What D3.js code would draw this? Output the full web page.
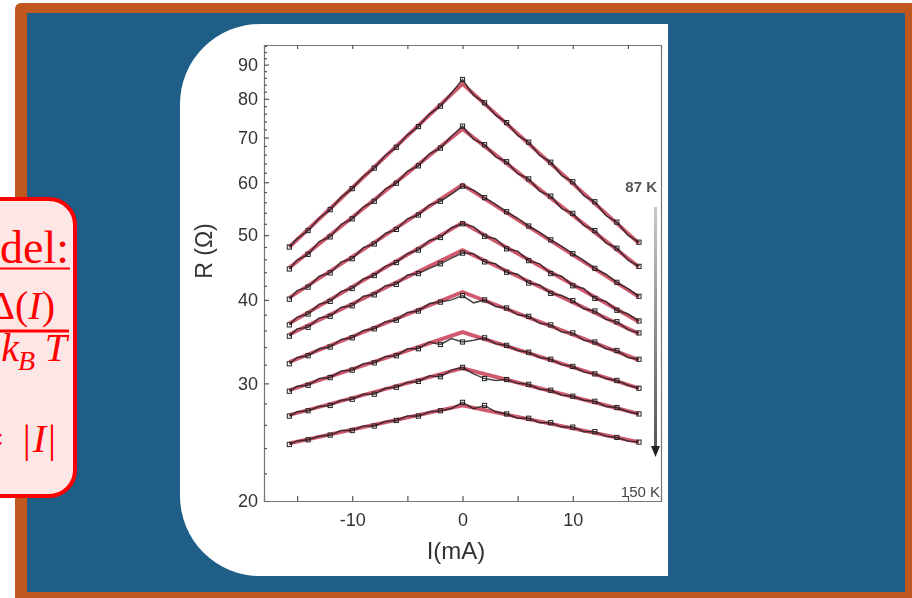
<!DOCTYPE html>
<html>
<head>
<meta charset="utf-8">
<script src="https://cdn.jsdelivr.net/npm/d3@7"></script>
<style>
  html, body { margin: 0; padding: 0; background: #fff; overflow: hidden; }
  svg { display: block; }
</style>
</head>
<body>
<svg id="slide" width="912" height="598"></svg>
<script>
// Bias current (mA) at which each resistance point was taken
const currents = [-15.7,-15,-14,-13,-12,-11,-10,-9,-8,-7,-6,-5,-4,-3,-2,-1,0,
                  1,2,3,4,5,6,7,8,9,10,11,12,13,14,15,16];

// Measured resistance (ohm), one series per temperature, 87 K at the top down to 150 K
const r87  = [48.0,49.4,50.8,53.0,54.6,57.0,58.7,61.2,63.0,65.8,67.7,70.6,72.7,75.9,78.0,81.6,85.5,
              81.0,78.9,75.6,73.7,70.5,68.9,65.8,64.3,61.4,60.1,57.3,56.1,53.5,52.3,50.0,48.8];
const rT2  = [44.5,45.9,46.8,48.9,49.7,51.9,52.9,55.1,56.2,58.6,59.8,62.3,63.5,66.2,67.5,70.3,72.8,
              69.6,68.3,65.5,64.4,61.8,60.7,58.2,57.2,54.8,53.9,51.7,50.8,48.7,47.8,45.9,44.9];
const rT3  = [40.1,41.3,41.8,43.4,43.9,45.6,46.1,47.9,48.5,50.3,51.0,52.9,53.6,55.5,56.2,57.6,59.2,
              58.4,56.9,55.6,54.2,53.0,51.6,50.5,49.2,48.1,46.9,45.8,44.6,43.7,42.5,41.6,40.5];
const rT4  = [36.7,37.7,38.1,39.4,39.8,41.2,41.6,43.0,43.5,44.9,45.5,46.9,47.5,49.1,49.6,51.3,52.0,
              51.5,49.8,49.4,47.7,47.3,45.8,45.3,43.8,43.4,42.0,41.6,40.2,39.8,38.6,38.1,37.2];
const rT5  = [35.3,36.2,36.4,37.6,37.8,39.0,39.2,40.5,40.7,42.0,42.2,43.6,43.8,44.6,45.3,46.2,47.0,
              46.9,45.6,45.3,44.0,43.7,42.4,42.1,40.9,40.6,39.9,38.8,38.5,37.4,37.1,36.1,35.7];
const rT6  = [32.1,32.8,33.0,33.8,34.0,34.9,35.1,36.0,36.2,37.1,37.3,38.3,38.5,39.5,39.7,40.0,40.6,
              39.6,40.0,39.1,38.9,38.0,37.8,36.9,36.7,35.8,35.7,34.8,34.6,33.8,33.6,32.8,32.6];
const rT7  = [29.2,29.7,29.8,30.5,30.6,31.3,31.4,32.1,32.2,32.9,33.0,33.8,33.8,34.6,34.3,35.0,34.6,
              34.8,35.1,34.4,34.2,33.6,33.4,32.8,32.6,32.0,31.8,31.2,31.0,30.5,30.3,29.8,29.5];
const rT8  = [26.8,27.2,27.3,27.7,27.8,28.3,28.4,28.9,28.9,29.5,29.6,30.1,30.2,30.8,30.7,31.4,31.7,
              31.0,30.5,30.3,30.4,30.0,29.9,29.4,29.3,28.8,28.7,28.3,28.2,27.7,27.6,27.2,27.0];
const r150 = [24.3,24.6,24.7,25.0,25.1,25.5,25.5,25.9,25.9,26.3,26.4,26.8,26.8,27.2,27.3,27.5,28.1,
              27.5,27.8,27.2,27.0,26.6,26.6,26.2,26.2,25.8,25.8,25.4,25.4,25.0,24.9,24.6,24.5];
const measured = [r87, rT2, rT3, rT4, rT5, rT6, rT7, rT8, r150];

// Fitted exponential model: straight segments in log R from each end to the cusp at I = 0
const fitCurrents = [-15.7, 0, 16];
const fitLeft  = [48.0, 44.7, 40.3, 36.9, 35.5, 32.3, 29.3, 26.9, 24.4];
const fitPeak  = [84.2, 72.1, 59.5, 52.2, 47.5, 41.1, 35.8, 31.6, 27.8];
const fitRight = [48.6, 44.8, 40.4, 37.1, 35.6, 32.5, 29.5, 27.0, 24.5];

// Axis ticks and labels
const yMajorTicks = [20, 30, 40, 50, 60, 70, 80, 90];
const yMinorTicks = [22,24,26,28,32,34,36,38,42,44,46,48,52,54,56,58,62,64,66,68,72,74,76,78,82,84,86,88,92,94,96];
const xTicks = [-15, -10, -5, 0, 5, 10, 15];
const xLabelled = [-10, 0, 10];
const tempHigh = "87 K";
const tempLow = "150 K";
const yTitle = "R (\u03A9)";
const xTitle = "I(mA)";

const svg = d3.select("#slide");
const defs = svg.append("defs");
defs.append("filter").attr("id", "soft")
  .attr("x", "-5%").attr("y", "-5%").attr("width", "110%").attr("height", "110%")
  .append("feGaussianBlur").attr("stdDeviation", 0.7);
const barGrad = defs.append("linearGradient").attr("id", "tempBar")
  .attr("x1", 0).attr("y1", 0).attr("x2", 0).attr("y2", 1);
barGrad.append("stop").attr("offset", "0%").attr("stop-color", "#c8c8c8");
barGrad.append("stop").attr("offset", "100%").attr("stop-color", "#555");

// Slide frame
svg.append("rect").attr("width", 912).attr("height", 598).attr("fill", "#fff");
svg.append("rect").attr("x", 15).attr("y", 3).attr("width", 920).attr("height", 620)
  .attr("rx", 6).attr("fill", "#c0571f");
svg.append("rect").attr("x", 27).attr("y", 13).attr("width", 878).attr("height", 579)
  .attr("fill", "#1f5e87");

// White figure panel with rounded left corners
svg.append("path")
  .attr("d", "M260,24 H668 V576 H260 A80,80 0 0 1 180,496 V104 A80,80 0 0 1 260,24 Z")
  .attr("fill", "#fff");

const chart = svg.append("g").attr("filter", "url(#soft)");

const x = d3.scaleLinear().domain([-18, 18]).range([264, 661]);
const y = d3.scaleLog().domain([20, 96.3]).range([501, 45]);

const axisFont = "'Liberation Sans', Arial, sans-serif";

function styleAxis(g) {
  g.select(".domain").attr("stroke", "#777").attr("stroke-width", 1.2);
  g.selectAll(".tick line").attr("stroke", "#555").attr("stroke-width", 1.2);
  g.selectAll(".tick text").attr("fill", "#333").style("font-family", axisFont).style("font-size", "18px");
}

// Left axis, major and minor ticks drawn inward
chart.append("g").attr("transform", "translate(264,0)")
  .call(d3.axisLeft(y).tickValues(yMajorTicks).tickSize(-5).tickPadding(6).tickFormat(d3.format("d")))
  .call(styleAxis);
chart.append("g").attr("transform", "translate(264,0)")
  .call(d3.axisLeft(y).tickValues(yMinorTicks).tickSize(-3).tickFormat(""))
  .call(styleAxis).call(g => g.select(".domain").remove());

// Bottom axis
chart.append("g").attr("transform", "translate(0,501)")
  .call(d3.axisBottom(x).tickValues(xTicks).tickSize(-5).tickPadding(12)
    .tickFormat(d => xLabelled.includes(d) ? String(d) : ""))
  .call(styleAxis);

// Top and right frame
chart.append("g").attr("transform", "translate(0,45)")
  .call(d3.axisTop(x).tickValues(xTicks).tickSize(-4).tickFormat(""))
  .call(styleAxis);
chart.append("g").attr("transform", "translate(661,0)")
  .call(d3.axisRight(y).tickValues([]).tickSize(0))
  .call(styleAxis);

// Axis titles
chart.append("text").attr("transform", "translate(212,251) rotate(-90)")
  .attr("text-anchor", "middle").attr("fill", "#333")
  .style("font-family", axisFont).style("font-size", "23px").text(yTitle);
chart.append("text").attr("x", 456).attr("y", 559)
  .attr("text-anchor", "middle").attr("fill", "#333")
  .style("font-family", axisFont).style("font-size", "24px").text(xTitle);

// Fit lines
const fitLine = d3.line().x(d => x(d[0])).y(d => y(d[1]));
fitPeak.forEach((pk, i) => {
  const pts = [[fitCurrents[0], fitLeft[i]], [fitCurrents[1], pk], [fitCurrents[2], fitRight[i]]];
  chart.append("path").attr("d", fitLine(pts))
    .attr("fill", "none").attr("stroke", "#c4304a").attr("stroke-width", 3.8)
    .attr("stroke-opacity", 0.8).attr("stroke-linejoin", "miter");
});

// Measured points: thin trace with open squares and crosses
const dataLine = d3.line().x(d => x(d[0])).y(d => y(d[1]));
const cross = d3.symbol().type(d3.symbolX).size(14);
measured.forEach(series => {
  const pts = currents.map((c, k) => [c, series[k]]);
  chart.append("path").attr("d", dataLine(pts))
    .attr("fill", "none").attr("stroke", "#2a2224").attr("stroke-width", 1.5)
    .attr("stroke-opacity", 0.85);
  chart.append("g").selectAll("rect").data(pts.filter((d, k) => k % 2 === 0)).join("rect")
    .attr("x", d => x(d[0]) - 2.1).attr("y", d => y(d[1]) - 2.1)
    .attr("width", 4.2).attr("height", 4.2)
    .attr("fill", "none").attr("stroke", "#222").attr("stroke-width", 1);
  chart.append("g").selectAll("path").data(pts.filter((d, k) => k % 2 === 1)).join("path")
    .attr("transform", d => `translate(${x(d[0])},${y(d[1])})`)
    .attr("d", cross).attr("fill", "#222");
});

// Temperature direction marker
chart.append("rect").attr("x", 654).attr("y", 207).attr("width", 3).attr("height", 243)
  .attr("fill", "url(#tempBar)");
chart.append("path").attr("d", "M651,446 L660,446 L655.5,457 Z").attr("fill", "#222");
chart.append("text").attr("x", 657).attr("y", 192).attr("text-anchor", "end")
  .attr("fill", "#555").style("font-family", axisFont).style("font-size", "15px")
  .style("font-weight", "bold").text(tempHigh);
chart.append("text").attr("x", 660).attr("y", 497).attr("text-anchor", "end")
  .attr("fill", "#444").style("font-family", axisFont).style("font-size", "15px")
  .text(tempLow);

// Model formula box on the left
const red = "#ff0000";
const serif = "'Liberation Serif', 'DejaVu Serif', serif";
const box = svg.append("g");
box.append("rect").attr("x", -40).attr("y", 199).attr("width", 115).attr("height", 297)
  .attr("rx", 26).attr("fill", "#fde6e6").attr("stroke", red).attr("stroke-width", 4);
box.append("text").attr("x", 69).attr("y", 263).attr("text-anchor", "end")
  .attr("fill", red).style("font-family", serif).style("font-size", "46px").text("Model:");
box.append("line").attr("x1", 0).attr("x2", 70).attr("y1", 268.5).attr("y2", 268.5)
  .attr("stroke", red).attr("stroke-width", 2.2);

const num = box.append("text").attr("x", 55).attr("y", 319).attr("text-anchor", "end")
  .attr("fill", red).style("font-family", serif).style("font-size", "40px");
num.append("tspan").text("\u0394(");
num.append("tspan").style("font-style", "italic").text("I");
num.append("tspan").text(")");
box.append("line").attr("x1", 0).attr("x2", 69).attr("y1", 331).attr("y2", 331)
  .attr("stroke", red).attr("stroke-width", 3);

// Denominator k_B T, spaced like a math layout
box.append("text").attr("x", 19).attr("y", 361).attr("text-anchor", "end")
  .attr("fill", red).style("font-family", serif).style("font-size", "40px")
  .style("font-style", "italic").text("k");
box.append("text").attr("x", 18).attr("y", 370)
  .attr("fill", red).style("font-family", serif).style("font-size", "28px")
  .style("font-style", "italic").text("B");
box.append("text").attr("x", 67).attr("y", 361).attr("text-anchor", "end")
  .attr("fill", red).style("font-family", serif).style("font-size", "40px")
  .style("font-style", "italic").text("T");

box.append("text").attr("x", 6).attr("y", 452).attr("text-anchor", "end")
  .attr("fill", red).style("font-family", serif).style("font-size", "40px").text("\u2217");
const abs = box.append("text").attr("x", 56).attr("y", 452).attr("text-anchor", "end")
  .attr("fill", red).style("font-family", serif).style("font-size", "40px");
abs.append("tspan").text("|");
abs.append("tspan").attr("dx", 2).style("font-style", "italic").text("I");
abs.append("tspan").attr("dx", 2).text("|");
</script>
</body>
</html>
